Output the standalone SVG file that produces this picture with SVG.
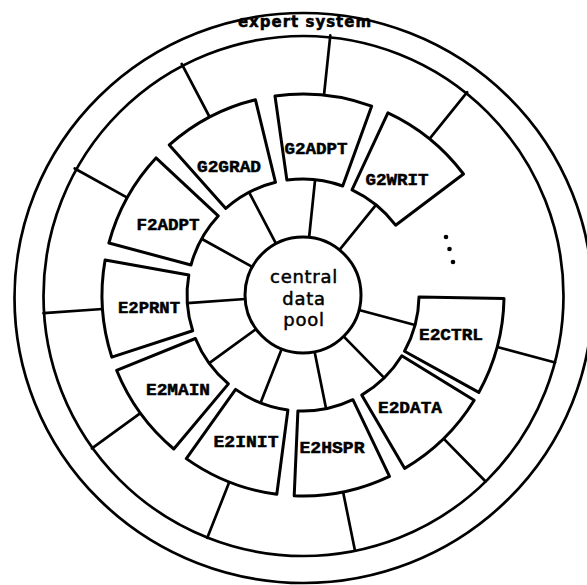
<svg xmlns="http://www.w3.org/2000/svg" width="587" height="585" viewBox="0 0 587 585">
<style>
.ln{fill:none;stroke:#000;stroke-width:2.7;stroke-linejoin:round;stroke-linecap:round}
.box{fill:#fff;stroke:#000;stroke-width:3;stroke-linejoin:round}
.lbl{font-family:"Liberation Mono","Courier New",monospace;font-weight:bold;font-size:16px;text-anchor:middle;fill:#000;stroke:#000;stroke-width:0.5}
.sans{font-family:"DejaVu Sans","Liberation Sans",sans-serif;text-anchor:middle;fill:#000;stroke:#000;stroke-width:0.5}
</style>
<rect width="587" height="585" fill="#fff"/>
<g id="expert-system">
<ellipse cx="303.5" cy="298" rx="289" ry="285" class="ln" stroke-width="3"/>
<circle cx="303.5" cy="296" r="260" class="ln" stroke-width="3"/>
<text x="305" y="27" class="sans" font-size="15" font-weight="bold" stroke-width="0.2" letter-spacing="1">expert system</text>
</g>
<g id="connectors" class="ln">
<line x1="309.1" y1="237.3" x2="315.1" y2="179.6"/>
<line x1="324.0" y1="95.1" x2="330.3" y2="35.4"/>
<line x1="339.5" y1="249.9" x2="376.0" y2="204.9"/>
<line x1="429.5" y1="138.8" x2="467.2" y2="92.2"/>
<line x1="359.0" y1="310.0" x2="415.0" y2="325.0"/>
<line x1="497.2" y1="347.0" x2="555.1" y2="362.5"/>
<line x1="343.6" y1="336.4" x2="384.2" y2="377.9"/>
<line x1="443.6" y1="438.6" x2="485.6" y2="481.5"/>
<line x1="314.6" y1="351.8" x2="326.1" y2="408.7"/>
<line x1="343.1" y1="492.0" x2="355.0" y2="550.8"/>
<line x1="281.7" y1="349.0" x2="260.5" y2="402.9"/>
<line x1="229.3" y1="482.0" x2="207.3" y2="537.8"/>
<line x1="256.1" y1="329.1" x2="209.2" y2="363.2"/>
<line x1="140.4" y1="413.1" x2="91.9" y2="448.4"/>
<line x1="245.1" y1="299.0" x2="187.3" y2="303.1"/>
<line x1="102.5" y1="309.0" x2="43.5" y2="313.2"/>
<line x1="252.3" y1="266.9" x2="201.5" y2="238.8"/>
<line x1="127.2" y1="197.6" x2="74.7" y2="168.5"/>
<line x1="276.0" y1="243.6" x2="249.1" y2="192.3"/>
<line x1="209.6" y1="117.0" x2="181.7" y2="63.9"/>
</g>
<g id="central-data-pool">
<circle cx="303" cy="295" r="58" class="box"/>
<text x="304" y="283" class="sans" font-size="18" letter-spacing="0.7">central</text>
<text x="304" y="305" class="sans" font-size="18" letter-spacing="0.7">data</text>
<text x="304" y="326" class="sans" font-size="18" letter-spacing="0.7">pool</text>
</g>
<g id="G2ADPT">
<path class="box" d="M275.0,96.0 A201,201 0 0 1 371.7,106.1 L342.7,186.0 A116,116 0 0 0 286.9,180.1 Z"/>
<text x="316" y="154" class="lbl" textLength="63" lengthAdjust="spacingAndGlyphs">G2ADPT</text>
</g>
<g id="G2WRIT">
<path class="box" d="M387.9,112.8 A201,201 0 0 1 463.5,174.0 L395.6,225.2 A116,116 0 0 0 352.0,189.9 Z"/>
<text x="397" y="185" class="lbl" textLength="63" lengthAdjust="spacingAndGlyphs">G2WRIT</text>
</g>
<g id="E2CTRL">
<path class="box" d="M504.0,298.5 A201,201 0 0 1 478.8,392.4 L404.5,351.2 A116,116 0 0 0 419.0,297.0 Z"/>
<text x="451" y="340" class="lbl" textLength="64" lengthAdjust="spacingAndGlyphs">E2CTRL</text>
</g>
<g id="E2DATA">
<path class="box" d="M474.2,400.3 A201,201 0 0 1 404.7,468.4 L361.7,395.1 A116,116 0 0 0 401.8,355.8 Z"/>
<text x="410" y="413" class="lbl" textLength="64" lengthAdjust="spacingAndGlyphs">E2DATA</text>
</g>
<g id="E2HSPR">
<path class="box" d="M389.5,476.4 A201,201 0 0 1 294.2,495.8 L297.9,410.9 A116,116 0 0 0 352.9,399.7 Z"/>
<text x="332" y="453" class="lbl" textLength="65" lengthAdjust="spacingAndGlyphs">E2HSPR</text>
</g>
<g id="E2INIT">
<path class="box" d="M276.8,494.3 A201,201 0 0 1 186.3,458.6 L235.6,389.4 A116,116 0 0 0 287.9,410.0 Z"/>
<text x="246" y="447" class="lbl" textLength="65" lengthAdjust="spacingAndGlyphs">E2INIT</text>
</g>
<g id="E2MAIN">
<path class="box" d="M173.8,449.0 A201,201 0 0 1 116.6,370.3 L195.4,338.5 A116,116 0 0 0 228.4,383.9 Z"/>
<text x="178" y="395" class="lbl" textLength="64" lengthAdjust="spacingAndGlyphs">E2MAIN</text>
</g>
<g id="E2PRNT">
<path class="box" d="M111.8,357.1 A201,201 0 0 1 105.1,260.1 L188.8,274.9 A116,116 0 0 0 192.7,330.8 Z"/>
<text x="149" y="313" class="lbl" textLength="62" lengthAdjust="spacingAndGlyphs">E2PRNT</text>
</g>
<g id="F2ADPT">
<path class="box" d="M108.9,243.0 A201,201 0 0 1 156.0,157.9 L218.2,215.9 A116,116 0 0 0 191.0,265.0 Z"/>
<text x="168" y="230" class="lbl" textLength="63" lengthAdjust="spacingAndGlyphs">F2ADPT</text>
</g>
<g id="G2GRAD">
<path class="box" d="M169.3,144.9 A201,201 0 0 1 255.4,99.7 L275.5,182.3 A116,116 0 0 0 225.8,208.4 Z"/>
<text x="229" y="172" class="lbl" textLength="64" lengthAdjust="spacingAndGlyphs">G2GRAD</text>
</g>
<g id="ellipsis">
<circle cx="446" cy="237" r="2.3"/>
<circle cx="449.5" cy="249" r="2.3"/>
<circle cx="453" cy="262" r="2.3"/>
</g>
</svg>
